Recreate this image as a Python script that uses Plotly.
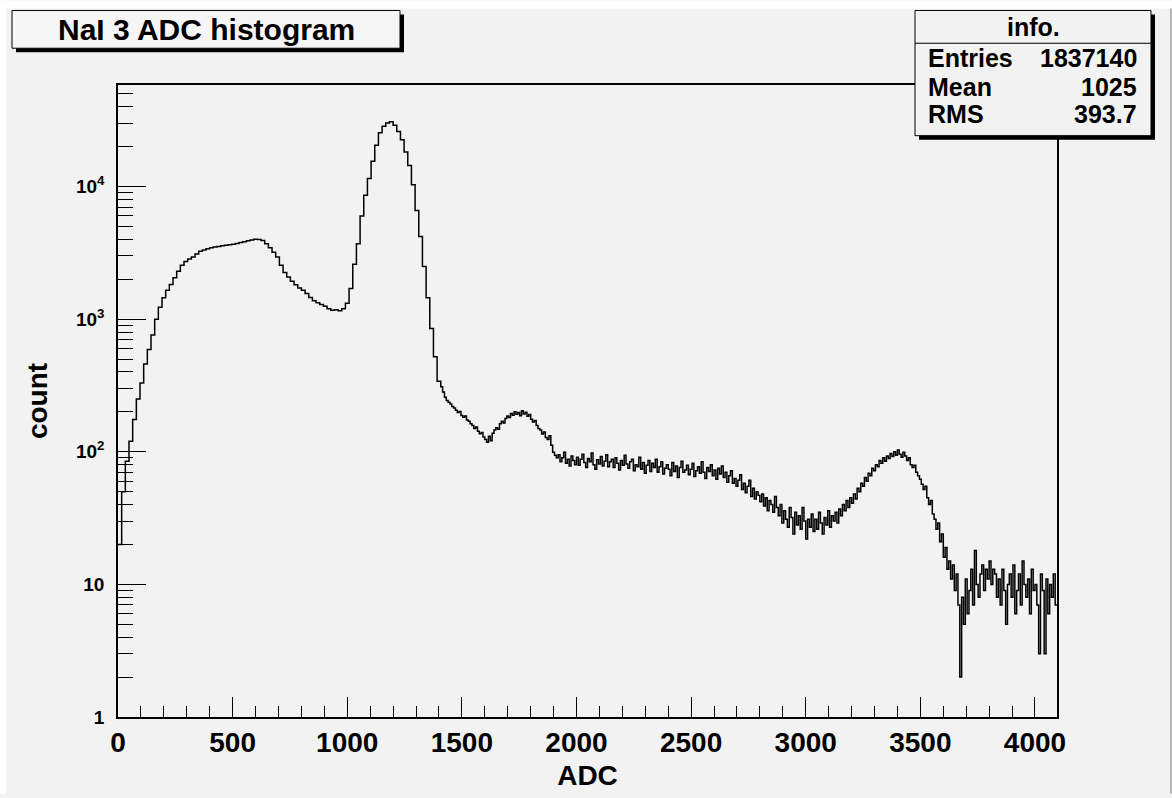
import numpy as np
import plotly.graph_objects as go

# ---------------- data ----------------
# coarse part of the spectrum: 16-channel bins from ADC 0 to 1408
COARSE_WIDTH = 16
coarse_counts = [
    20, 50, 85, 120, 175, 250, 330, 460, 590, 760, 1000, 1230, 1450, 1650, 1830, 2050,
    2300, 2550, 2720, 2840, 2950, 3100, 3250, 3320, 3400, 3450, 3500, 3540, 3580, 3610, 3640, 3680,
    3720, 3780, 3840, 3900, 3960, 4000, 3990, 3920, 3700, 3450, 3200, 2950, 2550, 2250, 2080, 1930,
    1820, 1720, 1650, 1560, 1460, 1380, 1330, 1290, 1250, 1200, 1170, 1180, 1160, 1200, 1320, 1700,
    2600, 3700, 6000, 8600, 11500, 15500, 20500, 25500, 28500, 30200, 30800, 29000, 26000, 22500, 18200, 14400,
    10300, 6600, 4200, 2500, 1450, 850, 520, 340,
]

# fine part of the spectrum: 8-channel bins from ADC 1408 to 4096
FINE_WIDTH = 8
fine_counts = [
    310, 282, 258, 244, 236, 229, 220, 214,
    206, 198, 201, 188, 182, 186, 174, 170,
    163, 158, 150, 154, 143, 137, 140, 129,
    124, 118, 131, 121, 138, 146, 152, 148,
    163, 170, 165, 178, 186, 181, 194, 189,
    200, 192, 198, 187, 204, 193, 199, 185,
    191, 176, 168, 172, 158, 150, 146, 136,
    141, 128, 124, 132, 112, 99, 94, 90,
    95, 84, 90, 99, 82, 88, 78, 93, 86, 80,
    91, 79, 88, 96, 83, 76, 89, 84, 98, 80,
    74, 87, 81, 92, 78, 85, 95, 77, 84, 88,
    76, 90, 82, 73, 86, 79, 94, 81, 75, 84,
    88, 72, 80, 77, 91, 74, 83, 69, 79, 86,
    71, 82, 76, 88, 70, 77, 84, 68, 75, 80,
    74, 66, 83, 71, 78, 64, 76, 85, 70, 73,
    79, 67, 74, 82, 65, 72, 77, 69, 84, 70,
    63, 76, 71, 80, 66, 73, 62, 75, 68, 78,
    64, 70, 59, 66, 72, 58, 63, 55, 61, 67,
    52, 58, 49, 55, 61, 46, 53, 44, 50, 47,
    42, 48, 39, 45, 36, 43, 40, 35, 46, 38,
    33, 40, 29, 36, 31, 27, 38, 32, 24, 35,
    28, 33, 26, 38, 30, 22, 31, 27, 34, 25,
    31, 26, 35, 29, 24, 32, 28, 36, 27, 33,
    30, 35, 29, 37, 33, 40, 36, 43, 38, 45,
    41, 48, 44, 53, 50, 58, 55, 64, 60, 69,
    66, 75, 72, 80, 77, 86, 82, 90, 85, 93,
    89, 97, 92, 100, 94, 103, 96, 91, 99, 93,
    86, 90, 80, 76, 79, 70, 66, 62, 57, 52,
    55, 45, 40, 43, 34, 31, 26, 29, 21, 24,
    16, 19, 13, 15, 11, 14, 9, 12, 7, 2,
    8, 5, 11, 6, 9, 13, 7, 18, 10, 8,
    12, 14, 9, 13, 11, 15, 10, 13, 12, 8,
    11, 7, 13, 9, 5, 10, 12, 8, 14, 6,
    9, 12, 7, 15, 10, 8, 11, 6, 13, 9,
    10, 7, 3, 12, 9, 3, 11, 6, 10, 8, 12, 7,
]

x_tick_vals = [0, 500, 1000, 1500, 2000, 2500, 3000, 3500, 4000]
x_tick_text = ["0", "500", "1000", "1500", "2000", "2500", "3000", "3500", "4000"]
y_tick_vals = [1, 10, 100, 1000, 10000]
y_tick_text = ["1", "10", "10<sup>2</sup>", "10<sup>3</sup>", "10<sup>4</sup>"]

title_text = "NaI 3 ADC histogram"
stats_header = "info."
stats_labels = ["Entries", "Mean", "RMS"]
stats_values = ["1837140", "1025", "393.7"]

x_title = "ADC"
y_title = "count"

# ---------------- derived ----------------
coarse_end = len(coarse_counts) * COARSE_WIDTH
edges = np.concatenate([
    np.arange(0, coarse_end, COARSE_WIDTH),
    coarse_end + np.arange(len(fine_counts) + 1) * FINE_WIDTH,
])
counts = coarse_counts + fine_counts
x_step = edges
y_step = counts + [counts[-1]]

x_max = 4096
y_log_max = 4.766

x_minor = [v for v in range(100, x_max, 100) if v % 500 != 0]
y_minor = []
for dec in [1, 10, 100, 1000, 10000]:
    for m in range(2, 10):
        if np.log10(dec * m) < y_log_max:
            y_minor.append(dec * m)

# ---------------- layout geometry ----------------
W, H = 1172, 798
L, R, T, B = 118, 115, 85, 77
PW, PH = W - L - R, H - T - B


def px(X):
    return (X - L) / PW


def py(Y):
    return (H - B - Y) / PH


BG = "#f2f2f2"
FONT = "Liberation Sans"

fig = go.Figure()
fig.add_trace(go.Scatter(
    x=x_step, y=y_step, mode="lines",
    line=dict(shape="hv", color="black", width=1.5),
    showlegend=False, hoverinfo="skip",
))

shapes = []
annotations = []

# white outer border (top / left) and right edge line
shapes.append(dict(type="rect", xref="paper", yref="paper",
                   x0=px(0), x1=px(6), y0=py(H), y1=py(0),
                   fillcolor="white", line=dict(width=0), layer="above"))
shapes.append(dict(type="rect", xref="paper", yref="paper",
                   x0=px(0), x1=px(W), y0=py(8), y1=py(0),
                   fillcolor="white", line=dict(width=0), layer="above"))
shapes.append(dict(type="line", xref="paper", yref="paper",
                   x0=px(1171), x1=px(1171), y0=py(H), y1=py(8),
                   line=dict(color="#a0a0a0", width=1.5), layer="above"))

# title box with shadow
tb = (12, 400, 10, 48)
shapes.append(dict(type="rect", xref="paper", yref="paper",
                   x0=px(tb[0] + 4), x1=px(tb[1] + 4), y0=py(tb[3] + 4), y1=py(tb[2] + 4),
                   fillcolor="black", line=dict(width=0), layer="above"))
shapes.append(dict(type="rect", xref="paper", yref="paper",
                   x0=px(tb[0]), x1=px(tb[1]), y0=py(tb[3]), y1=py(tb[2]),
                   fillcolor="#f6f6f6", line=dict(color="black", width=1), layer="above"))
annotations.append(dict(text=f"<b>{title_text}</b>", xref="paper", yref="paper",
                        x=px((tb[0] + tb[1]) / 2), y=py((tb[2] + tb[3]) / 2),
                        xanchor="center", yanchor="middle", showarrow=False,
                        font=dict(family=FONT, size=30, color="black")))

# stats box with shadow
sb = (915, 1151, 10, 136)
shapes.append(dict(type="rect", xref="paper", yref="paper",
                   x0=px(sb[0] + 4), x1=px(sb[1] + 4), y0=py(sb[3] + 4), y1=py(sb[2] + 4),
                   fillcolor="black", line=dict(width=0), layer="above"))
shapes.append(dict(type="rect", xref="paper", yref="paper",
                   x0=px(sb[0]), x1=px(sb[1]), y0=py(sb[3]), y1=py(sb[2]),
                   fillcolor=BG, line=dict(color="black", width=1), layer="above"))
shapes.append(dict(type="line", xref="paper", yref="paper",
                   x0=px(sb[0]), x1=px(sb[1]), y0=py(43), y1=py(43),
                   line=dict(color="black", width=1), layer="above"))
annotations.append(dict(text=f"<b>{stats_header}</b>", xref="paper", yref="paper",
                        x=px((sb[0] + sb[1]) / 2), y=py(27),
                        xanchor="center", yanchor="middle", showarrow=False,
                        font=dict(family=FONT, size=25, color="black")))
row_y = [58, 87, 114]
for lab, val, yy in zip(stats_labels, stats_values, row_y):
    annotations.append(dict(text=f"<b>{lab}</b>", xref="paper", yref="paper",
                            x=px(926), y=py(yy), xanchor="left", yanchor="middle",
                            showarrow=False, font=dict(family=FONT, size=25, color="black")))
    annotations.append(dict(text=f"<b>{val}</b>", xref="paper", yref="paper",
                            x=px(1139), y=py(yy), xanchor="right", yanchor="middle",
                            showarrow=False, font=dict(family=FONT, size=25, color="black")))

fig.update_layout(
    width=W, height=H,
    margin=dict(l=L, r=R, t=T, b=B, pad=0),
    paper_bgcolor=BG, plot_bgcolor=BG,
    showlegend=False,
    shapes=shapes, annotations=annotations,
    xaxis=dict(
        range=[0, x_max], tickmode="array", tickvals=x_tick_vals, ticktext=x_tick_text,
        ticks="inside", ticklen=20, tickwidth=1, tickcolor="black",
        showline=True, linecolor="black", linewidth=1.5, mirror=True,
        showgrid=False, zeroline=False,
        minor=dict(ticks="inside", ticklen=11, tickwidth=1, tickcolor="black",
                   tickmode="array", tickvals=x_minor, showgrid=False),
        tickfont=dict(family=FONT, size=28, color="black", weight="bold"),
        title=dict(text=f"<b>{x_title}</b>", font=dict(family=FONT, size=28, color="black"),
                   standoff=8),
    ),
    yaxis=dict(
        type="log", range=[0, y_log_max], tickmode="array",
        tickvals=y_tick_vals, ticktext=y_tick_text,
        ticks="inside", ticklen=28, tickwidth=1, tickcolor="black",
        showline=True, linecolor="black", linewidth=1.5, mirror=True,
        showgrid=False, zeroline=False,
        minor=dict(ticks="inside", ticklen=15, tickwidth=1, tickcolor="black",
                   tickmode="array", tickvals=y_minor, showgrid=False),
        tickfont=dict(family=FONT, size=19, color="black", weight="bold"),
        ticklabelstandoff=8,
        title=dict(text=f"<b>{y_title}</b>", font=dict(family=FONT, size=28, color="black"),
                   standoff=20),
    ),
)

fig.write_html("out.html")
